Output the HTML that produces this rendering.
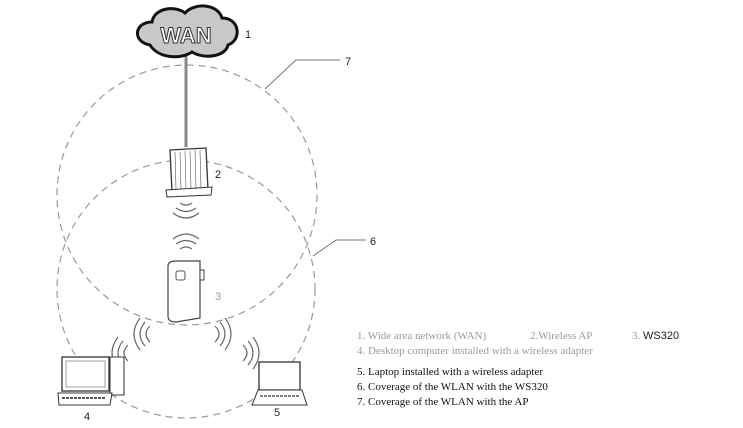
<!DOCTYPE html>
<html><head><meta charset="utf-8"><style>
body{margin:0;background:#fff;width:743px;height:428px;overflow:hidden;position:relative}
svg{position:absolute;left:0;top:0}
.t{position:absolute;font-family:"Liberation Serif",serif;font-size:11px;white-space:nowrap}
.g{color:#9a9a9a}.k{color:#111}
</style></head><body>
<svg width="743" height="428" viewBox="0 0 743 428">
<g fill="none" stroke="#999" stroke-width="1.2" stroke-dasharray="7,5">
<circle cx="187" cy="195" r="130"/>
<circle cx="186" cy="289" r="129"/>
</g>
<g fill="none" stroke="#777" stroke-width="1">
<polyline points="265,89 296,60 340,60"/>
<polyline points="313,256 336,240 366,240"/>
</g>
<line x1="186" y1="55" x2="186" y2="147" stroke="#888" stroke-width="3"/>
<path d="M150,45 C132,42 134,22 152,22 C154,8 175,5 185,13 C195,2 218,4 222,18 C240,18 242,40 228,45 C226,56 205,60 192,52 C180,60 158,58 150,45 Z" fill="#c8c8c8" stroke="#111" stroke-width="3"/>
<text x="186" y="43" text-anchor="middle" font-family="Liberation Sans,sans-serif" font-weight="bold" font-size="22" fill="#fff" stroke="#333" stroke-width="1">WAN</text>
<path d="M170,150 L206,148 L208,190 L172,192 Z" fill="#fff" stroke="#333" stroke-width="1.3"/>
<path d="M166,190 L212,187 L211,195 L167,197 Z" fill="#fff" stroke="#333" stroke-width="1"/>
<g stroke="#555" stroke-width="0.6"><line x1="175" y1="152" x2="176" y2="189"/><line x1="180" y1="152" x2="181" y2="189"/><line x1="185" y1="151" x2="186" y2="189"/><line x1="190" y1="151" x2="191" y2="189"/><line x1="195" y1="150" x2="196" y2="189"/><line x1="200" y1="150" x2="201" y2="189"/></g>
<g fill="none" stroke="#666" stroke-width="1.2">
<path d="M180,203 Q186,207 192,203"/><path d="M176,208 Q186,215 196,208"/><path d="M173,213 Q186,223 199,213"/>
<path d="M180,249 Q186,245 192,249"/><path d="M176,244 Q186,237 196,244"/><path d="M173,239 Q186,229 199,239"/>
<path d="M150,326 Q142,334 150,342"/><path d="M145,322 Q135,334 145,346"/><path d="M140,318 Q128,334 140,350"/>
<path d="M215,326 Q223,334 215,342"/><path d="M220,322 Q230,334 220,346"/><path d="M225,318 Q237,334 225,350"/>
<path d="M128,345 Q120,353 128,361"/><path d="M123,341 Q113,353 123,365"/><path d="M118,337 Q106,353 118,369"/>
<path d="M243,345 Q251,353 243,361"/><path d="M248,341 Q258,353 248,365"/><path d="M253,337 Q265,353 253,369"/>
</g>
<path d="M168,266 Q168,261 176,261 L200,261 L200,318 L176,322 Q168,322 168,316 Z" fill="#fff" stroke="#444" stroke-width="1.2"/>
<rect x="200" y="270" width="4" height="10" fill="#fff" stroke="#444"/>
<rect x="176" y="271" width="9" height="9" rx="2" fill="#fff" stroke="#555"/>
<rect x="62" y="357" width="47" height="34" fill="#fff" stroke="#333" stroke-width="1.3"/>
<rect x="66" y="361" width="39" height="26" fill="none" stroke="#777" stroke-width="0.7"/>
<rect x="110" y="357" width="14" height="38" fill="#fff" stroke="#333" stroke-width="1"/>
<path d="M58,393 L112,393 L110,405 L59,405 Z" fill="#fff" stroke="#333"/>
<line x1="62" y1="398" x2="106" y2="398" stroke="#555" stroke-width="2" stroke-dasharray="3,1"/>
<rect x="259" y="362" width="41" height="28" fill="#fff" stroke="#333" stroke-width="1.3"/>
<path d="M258,390 L302,390 L307,405 L252,405 Z" fill="#fff" stroke="#333"/>
<line x1="260" y1="396" x2="300" y2="396" stroke="#555" stroke-width="1.5" stroke-dasharray="3,1"/>
<g font-family="Liberation Sans,sans-serif" font-size="11" fill="#222">
<text x="245" y="38">1</text><text x="345" y="65">7</text><text x="215" y="178">2</text>
<text x="370" y="245">6</text><text x="215" y="300" fill="#999">3</text>
<text x="84" y="420">4</text><text x="274" y="416">5</text>
</g>
</svg>
<div class="t g" style="left:357px;top:330px">1. Wide area network (WAN)</div>
<div class="t g" style="left:530px;top:330px">2.Wireless AP</div>
<div class="t g" style="left:632px;top:330px">3. <span style="color:#222;font-family:'Liberation Sans',sans-serif">WS320</span></div>
<div class="t g" style="left:357px;top:345px">4. Desktop computer installed with a wireless adapter</div>
<div class="t k" style="left:357px;top:366px">5. Laptop installed with a wireless adapter</div>
<div class="t k" style="left:357px;top:381px">6. Coverage of the WLAN with the WS320</div>
<div class="t k" style="left:357px;top:396px">7. Coverage of the WLAN with the AP</div>
</body></html>
